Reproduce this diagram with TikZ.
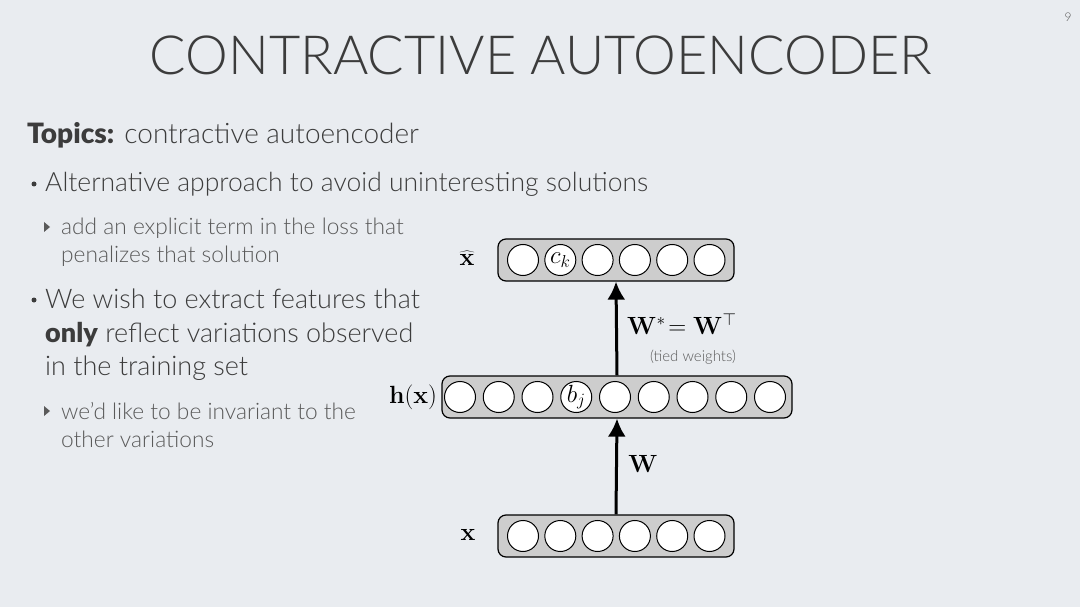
\documentclass[tikz,border=0pt]{standalone}
\usepackage[no-math]{fontspec}
\setmainfont{Lato Light}[BoldFont=Lato Black]
\usetikzlibrary{arrows.meta}
\definecolor{bg}{RGB}{233,236,240}
\definecolor{txt}{RGB}{60,60,60}
\definecolor{subtxt}{RGB}{90,90,90}
\definecolor{layerfill}{RGB}{205,205,205}
\tikzset{
  layer/.style={draw=black, line width=1.2pt, fill=layerfill, rounded corners=8pt, minimum height=42pt, inner sep=0pt},
  unit/.style={draw=black, line width=1pt, fill=white, circle, minimum size=31pt, inner sep=0pt},
  conn/.style={line width=3pt, -{Latex[length=18pt,width=18pt]}},
  txtline/.style={anchor=base west, inner sep=0pt, text=txt},
  subline/.style={anchor=base west, inner sep=0pt, text=subtxt},
  mlabel/.style={inner sep=0pt, text=black},
}
\begin{document}
\begin{tikzpicture}[x=1pt,y=-1pt]
\fill[bg] (0,0) rectangle (1080,607);
\useasboundingbox (0,0) rectangle (1080,607);
% title
\node[anchor=base, inner sep=0pt, text=txt, font=\fontsize{54}{60}\selectfont] (title) at (541,75) {CONTRACTIVE AUTOENCODER};
\node[anchor=base, inner sep=0pt, text=subtxt, font=\fontsize{12}{14}\selectfont] (pnum) at (1068,22) {9};
% text
\node[txtline, font=\fontsize{28}{30}\selectfont] (topics) at (27,144) {\textbf{Topics:} contractive autoencoder};
\fill[txt] (34,184) circle (2.5pt);
\node[txtline, font=\fontsize{26.5}{30}\selectfont] (b1) at (45,192) {Alternative approach to avoid uninteresting solutions};
\fill[subtxt] (44,222) -- (50,227) -- (44,232) -- cycle;
\node[subline, font=\fontsize{22.7}{24}\selectfont] (s1a) at (61,234) {add an explicit term in the loss that};
\node[subline, font=\fontsize{22.7}{24}\selectfont] (s1b) at (61,262) {penalizes that solution};
\fill[txt] (34,300) circle (2.5pt);
\node[txtline, font=\fontsize{27}{30}\selectfont] (b2a) at (45,308) {We wish to extract features that};
\node[txtline, font=\fontsize{27}{30}\selectfont] (b2b) at (45,342) {\textbf{only} reflect variations observed};
\node[txtline, font=\fontsize{27}{30}\selectfont] (b2c) at (45,375) {in the training set};
\fill[subtxt] (44,406) -- (50,411) -- (44,416) -- cycle;
\node[subline, font=\fontsize{22.7}{24}\selectfont] (s2a) at (61,419) {we'd like to be invariant to the};
\node[subline, font=\fontsize{22.7}{24}\selectfont] (s2b) at (61,447) {other variations};
% layers
\node[layer, minimum width=236pt] (top) at (616,260) {};
\node[layer, minimum width=350pt] (mid) at (617,397) {};
\node[layer, minimum width=236pt] (bot) at (616,536) {};
\foreach \i in {0,...,5} {
  \node[unit] (t\i) at (523+37.3*\i,260) {};
  \node[unit] (x\i) at (523+37.3*\i,536) {};
}
\foreach \i in {0,...,8} {
  \node[unit] (h\i) at (460+38.75*\i,397) {};
}
\node[mlabel, font=\fontsize{25}{26}\selectfont] (ck) at (t1) {$c_k$};
\node[mlabel, font=\fontsize{25}{26}\selectfont] (bj) at (h3) {$b_j$};
% connectors
\draw[conn] (bot.north) -- (mid.south);
\draw[conn] (mid.north) -- (top.south);
% labels
\node[mlabel, font=\fontsize{24}{26}\selectfont] (lxh) at (467,258) {$\widehat{\mathbf{x}}$};
\node[mlabel, font=\fontsize{24}{26}\selectfont] (lh) at (413,397) {$\mathbf{h}(\mathbf{x})$};
\node[mlabel, font=\fontsize{24}{26}\selectfont] (lx) at (468,535) {$\mathbf{x}$};
\node[mlabel, font=\fontsize{26}{28}\selectfont] (lw) at (643,464) {$\mathbf{W}$};
\node[mlabel, font=\fontsize{26}{28}\selectfont, anchor=west] (lws) at (627,324) {$\mathbf{W}^{*}\!=\mathbf{W}^{\top}$};
\node[inner sep=0pt, text=subtxt, font=\fontsize{15}{16}\selectfont] (tied) at (693,357) {(tied weights)};
\end{tikzpicture}
\end{document}
